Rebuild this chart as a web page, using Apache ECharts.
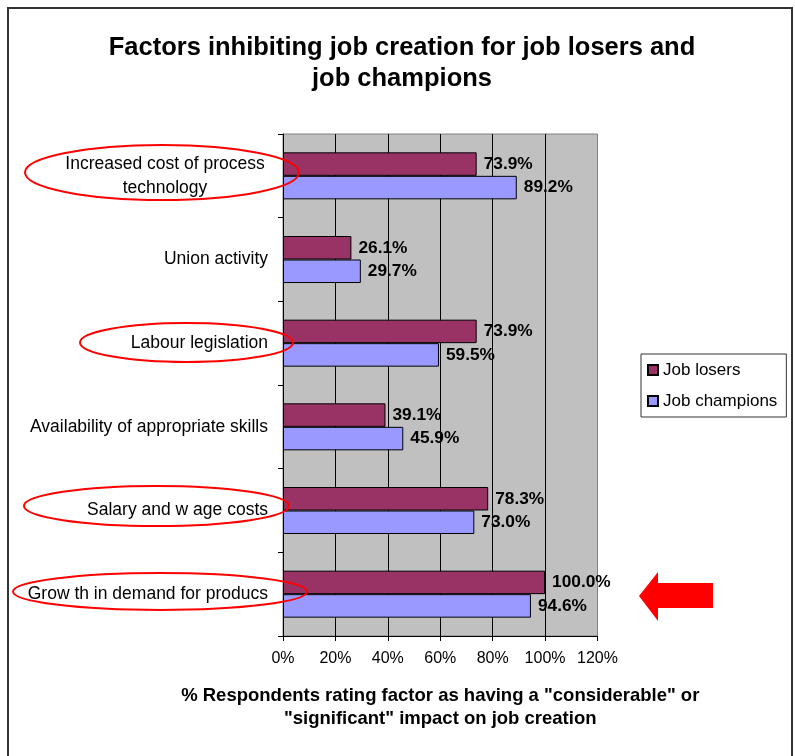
<!DOCTYPE html>
<html>
<head>
<meta charset="utf-8">
<script src="https://cdn.jsdelivr.net/npm/echarts@6/dist/echarts.min.js"></script>
<style>
  html, body { margin: 0; padding: 0; background: #fff; }
  #chart { width: 795px; height: 756px; }
</style>
</head>
<body>
<div id="chart"></div>
<script>
// Factors, listed top to bottom
const categories = [
  'Increased cost of process\ntechnology',
  'Union activity',
  'Labour legislation',
  'Availability of appropriate skills',
  'Salary and w age costs',
  'Grow th in demand for producs'
];
const jobLosers = [73.9, 26.1, 73.9, 39.1, 78.3, 100.0];
const jobChampions = [89.2, 29.7, 59.5, 45.9, 73.0, 94.6];
const seriesNames = ['Job losers', 'Job champions'];
const xTicks = [0, 20, 40, 60, 80, 100, 120];

const FONT = 'Arial, "Liberation Sans", sans-serif';
const chart = echarts.init(document.getElementById('chart'), null, { renderer: 'canvas' });

const valueLabel = {
  show: true,
  position: 'right',
  distance: 7,
  color: '#000',
  fontFamily: FONT,
  fontWeight: 'bold',
  fontSize: 17.3,
  formatter: p => p.value.toFixed(1) + '%'
};

chart.setOption({
  backgroundColor: '#fff',
  animation: false,
  title: {
    text: 'Factors inhibiting job creation for job losers and\njob champions',
    left: 402,
    textAlign: 'center',
    top: 32,
    padding: 0,
    textStyle: { fontFamily: FONT, fontWeight: 'bold', fontSize: 25.5, lineHeight: 31, color: '#000' }
  },
  legend: {
    orient: 'vertical',
    left: 641,
    top: 354,
    padding: [7.5, 9, 7.5, 6],
    itemWidth: 10,
    itemHeight: 10,
    itemGap: 14,
    borderColor: '#333',
    borderWidth: 1,
    icon: 'rect',
    data: seriesNames,
    textStyle: { fontFamily: FONT, fontSize: 17, color: '#000', lineHeight: 17 }
  },
  grid: {
    left: 283,
    top: 134,
    width: 314.5,
    height: 502,
    show: true,
    backgroundColor: '#c0c0c0',
    borderColor: '#808080',
    borderWidth: 1
  },
  xAxis: {
    type: 'value',
    min: xTicks[0],
    max: xTicks[xTicks.length - 1],
    interval: 20,
    axisLine: { show: true, lineStyle: { color: '#000', width: 1 } },
    axisTick: { show: true, length: 5, lineStyle: { color: '#000' } },
    axisLabel: {
      margin: 15,
      fontFamily: FONT,
      fontSize: 16,
      color: '#000',
      formatter: '{value}%'
    },
    splitLine: {
      show: true,
      lineStyle: { color: ['#000', '#000', '#000', '#000', '#000', '#000', '#808080'], width: 1 }
    },
    name: '% Respondents rating factor as having a "considerable" or\n"significant" impact on job creation',
    nameLocation: 'middle',
    nameGap: 48,
    nameTextStyle: { fontFamily: FONT, fontWeight: 'bold', fontSize: 18.5, lineHeight: 23, color: '#000' }
  },
  yAxis: {
    type: 'category',
    data: categories,
    inverse: true,
    axisLine: { show: true, lineStyle: { color: '#000', width: 1 } },
    axisTick: { show: true, length: 5, lineStyle: { color: '#000' } },
    axisLabel: {
      margin: 15,
      color: '#000',
      fontFamily: FONT,
      fontSize: 17.5,
      formatter: v => v.indexOf('\n') >= 0
        ? v.split('\n').map(s => '{c|' + s + '}').join('\n')
        : v,
      rich: {
        c: { width: 206, align: 'center', fontFamily: FONT, fontSize: 17.5, lineHeight: 24, color: '#000' }
      }
    },
    splitLine: { show: false }
  },
  series: [
    {
      name: seriesNames[0],
      type: 'bar',
      data: jobLosers,
      barWidth: 23.5,
      barGap: '0%',
      itemStyle: { color: '#993366', borderColor: '#000', borderWidth: 1 },
      label: valueLabel
    },
    {
      name: seriesNames[1],
      type: 'bar',
      data: jobChampions,
      barWidth: 23.5,
      barGap: '0%',
      itemStyle: { color: '#9999ff', borderColor: '#000', borderWidth: 1 },
      label: valueLabel
    }
  ],
  graphic: [
    {
      type: 'rect',
      silent: true,
      z: 100,
      shape: { x: 8, y: 8, width: 784, height: 770 },
      style: { fill: 'none', stroke: '#333', lineWidth: 2 }
    },
    // highlight rings round key factors
    { type: 'ellipse', silent: true, z: 100, shape: { cx: 162, cy: 172.5, rx: 137, ry: 27.5 },
      style: { fill: 'none', stroke: '#ff0000', lineWidth: 2 } },
    { type: 'ellipse', silent: true, z: 100, shape: { cx: 186.5, cy: 342.5, rx: 106.5, ry: 19.5 },
      style: { fill: 'none', stroke: '#ff0000', lineWidth: 2 } },
    { type: 'ellipse', silent: true, z: 100, shape: { cx: 156.5, cy: 506, rx: 132.5, ry: 20 },
      style: { fill: 'none', stroke: '#ff0000', lineWidth: 2 } },
    { type: 'ellipse', silent: true, z: 100, shape: { cx: 160, cy: 591.5, rx: 147, ry: 18.5 },
      style: { fill: 'none', stroke: '#ff0000', lineWidth: 2 } },
    // arrow pointing at the top factor
    {
      type: 'polygon',
      silent: true,
      z: 100,
      shape: { points: [[639, 596], [658, 572], [658, 583], [713, 583], [713, 608], [658, 608], [658, 621]] },
      style: { fill: '#ff0000', stroke: 'none' }
    }
  ]
});
</script>
</body>
</html>
